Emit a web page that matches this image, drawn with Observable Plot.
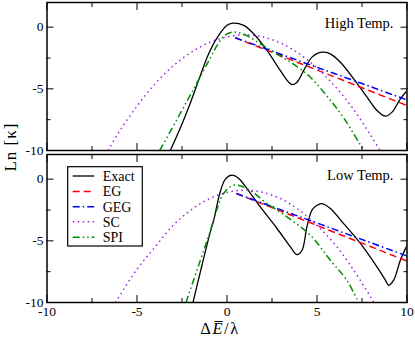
<!DOCTYPE html>
<html><head><meta charset="utf-8">
<script src="https://cdn.jsdelivr.net/npm/d3@7"></script>
<script src="https://cdn.jsdelivr.net/npm/@observablehq/plot@0.6"></script>
<style>
html,body{margin:0;padding:0;background:#fff}
#chart{width:415px;height:337px;overflow:hidden}
</style>
</head><body><div id="chart"></div>
<script>
// ---- data ----
const panels = ["High Temp.", "Low Temp."];
const seriesNames = ["Exact", "EG", "GEG", "SC", "SPI"];
const xTicks = [-10, -5, 0, 5, 10];
const xMinorTicks = [-7.5, -2.5, 2.5, 7.5];
const yTicks = [-10, -5, 0];
const yMinorTicks = [-7.5, -2.5];

// High temperature panel
const highExactX = [-3.15, -2.6, -2.0, -1.5, -1.0, -0.5, 0.0, 0.31, 0.93, 1.48, 2.22, 2.96, 3.43, 3.61, 3.89, 4.26, 4.72, 5.09, 5.37, 5.74, 6.3, 7.04, 7.78, 8.33, 8.8, 9.17, 9.63, 10];
const highExactY = [-10, -8.2, -6.0, -4.0, -2.1, -0.75, 0.15, 0.33, 0.14, -0.54, -1.89, -3.51, -4.46, -4.65, -4.46, -3.51, -2.43, -2.08, -2.03, -2.16, -2.84, -4.19, -5.68, -6.76, -7.22, -6.89, -5.81, -5.15];
const highEGX = [0.46, 2, 4, 6, 8, 10];
const highEGY = [-0.86, -1.75, -2.9, -4.05, -5.2, -6.35];
const highGEGX = [0.46, 2, 4, 6, 8, 10];
const highGEGY = [-0.86, -1.67, -2.73, -3.78, -4.84, -5.9];
const highSCX = [-6.6, -6, -5, -4, -3, -2, -1, 0, 1, 2, 3, 4, 5, 6, 7, 8, 8.5];
const highSCY = [-10, -8.5, -6.4, -4.6, -3.15, -2.05, -1.25, -0.8, -0.62, -0.8, -1.3, -2.15, -3.3, -4.8, -6.6, -8.8, -10];
const highSPIX = [-3.74, -2.6, -1.7, -0.93, -0.5, -0.15, 0.28, 0.9, 1.85, 2.8, 3.7, 4.63, 5.56, 6.5, 7.59];
const highSPIY = [-10, -7.0, -4.6, -2.5, -1.35, -0.7, -0.41, -0.55, -1.35, -2.2, -3.0, -4.06, -5.6, -7.4, -10];

// Low temperature panel
const lowExactX = [-1.89, -1.48, -0.93, -0.74, -0.37, -0.09, 0.28, 0.65, 1.11, 1.85, 2.78, 3.52, 3.89, 4.17, 4.44, 4.72, 5.0, 5.28, 5.74, 6.48, 7.41, 8.33, 8.8, 8.98, 9.26, 9.63, 10];
const lowExactY = [-10, -7.52, -4.3, -3.33, -1.0, 0.0, 0.32, 0.06, -0.76, -2.25, -4.0, -5.49, -6.12, -5.76, -3.87, -2.51, -2.11, -1.98, -2.38, -3.6, -5.21, -7.11, -8.19, -8.6, -8.19, -6.57, -5.37];
const lowEGX = [0.52, 2, 4, 6, 8, 10];
const lowEGY = [-1.16, -2.02, -3.17, -4.33, -5.48, -6.64];
const lowGEGX = [0.52, 2, 4, 6, 8, 10];
const lowGEGY = [-1.16, -1.95, -3.02, -4.09, -5.16, -6.23];
const lowSCX = [-6.2, -5, -4, -3, -2, -1, 0, 1, 2, 3, 4, 5, 6, 7, 8, 8.15];
const lowSCY = [-10, -7.3, -5.5, -3.75, -2.5, -1.6, -1.07, -0.9, -1.07, -1.6, -2.5, -3.75, -5.3, -7.3, -9.6, -10];
const lowSPIX = [-2.28, -1.48, -0.93, -0.5, -0.19, 0.37, 1.11, 2.22, 3.33, 4.63, 5.74, 6.65, 7.31];
const lowSPIY = [-10, -6.57, -4.2, -2.2, -1.16, -0.49, -0.76, -1.97, -3.06, -4.55, -6.57, -8.19, -10];

// ---- build table ----
const rows = [];
function add(panel, series, xs, ys) { xs.forEach((x, i) => rows.push({panel, series, x, y: ys[i]})); }
add(panels[0], "Exact", highExactX, highExactY);
add(panels[0], "EG", highEGX, highEGY);
add(panels[0], "GEG", highGEGX, highGEGY);
add(panels[0], "SC", highSCX, highSCY);
add(panels[0], "SPI", highSPIX, highSPIY);
add(panels[1], "Exact", lowExactX, lowExactY);
add(panels[1], "EG", lowEGX, lowEGY);
add(panels[1], "GEG", lowGEGX, lowGEGY);
add(panels[1], "SC", lowSCX, lowSCY);
add(panels[1], "SPI", lowSPIX, lowSPIY);

const style = {
  Exact: {stroke: "#000000", w: 1.3, dash: null},
  EG:    {stroke: "#ff0000", w: 1.5, dash: "7,4"},
  GEG:   {stroke: "#0000ff", w: 1.5, dash: "7,3,1.5,3"},
  SC:    {stroke: "#a020f0", w: 1.5, dash: "1.5,3.5"},
  SPI:   {stroke: "#008c00", w: 1.5, dash: "7,3,1.5,3,1.5,3"}
};

const fontFamily = "'Liberation Serif', 'Times New Roman', serif";
const fmt = d => String(d);

const lineMarks = seriesNames.map(s => Plot.line(rows.filter(d => d.series === s), {
  x: "x", y: "y", fy: "panel",
  stroke: style[s].stroke, strokeWidth: style[s].w,
  strokeDasharray: style[s].dash, strokeLinecap: "butt",
  curve: "catmull-rom", clip: true
}));

const panelLabels = panels.map(p => ({panel: p, label: p}));

const chart = Plot.plot({
  width: 415, height: 337,
  marginLeft: 46.5, marginRight: 8.5, marginTop: 2, marginBottom: 35,
  style: {fontFamily, fontSize: "13.5px", background: "#fff", color: "#000"},
  x: {domain: [-10, 10]},
  y: {domain: [-10, 2]},
  fy: {domain: panels, paddingInner: 4 / 152, paddingOuter: 0, axis: null, label: null},
  marks: [
    ...lineMarks,
    Plot.frame({stroke: "#000", strokeWidth: 1.5}),
    // inward ticks on all four sides of each panel
    Plot.axisX({anchor: "bottom", facetAnchor: null, ticks: xTicks, tickSize: -7, tickFormat: () => "", label: null}),
    Plot.axisX({anchor: "bottom", facetAnchor: null, ticks: xMinorTicks, tickSize: -4, tickFormat: () => "", label: null}),
    Plot.axisX({anchor: "top", facetAnchor: null, ticks: xTicks, tickSize: -7, tickFormat: () => "", label: null}),
    Plot.axisX({anchor: "top", facetAnchor: null, ticks: xMinorTicks, tickSize: -4, tickFormat: () => "", label: null}),
    Plot.axisY({anchor: "left", facetAnchor: null, ticks: yTicks, tickSize: -7, tickFormat: () => "", label: null}),
    Plot.axisY({anchor: "left", facetAnchor: null, ticks: yMinorTicks, tickSize: -4, tickFormat: () => "", label: null}),
    Plot.axisY({anchor: "right", facetAnchor: null, ticks: yTicks, tickSize: -7, tickFormat: () => "", label: null}),
    Plot.axisY({anchor: "right", facetAnchor: null, ticks: yMinorTicks, tickSize: -4, tickFormat: () => "", label: null}),
    // tick labels
    Plot.axisX({anchor: "bottom", ticks: xTicks, tickSize: 0, tickPadding: 4, tickFormat: fmt, label: null, fontSize: 13.5, fontFamily}),
    Plot.axisY({anchor: "left", facetAnchor: null, ticks: yTicks, tickSize: 0, tickPadding: 3.5, tickFormat: fmt, label: null, fontSize: 13.5, fontFamily}),
    // panel annotations
    Plot.text(panelLabels, {fy: "panel", text: "label", frameAnchor: "top-right", textAnchor: "end", lineAnchor: "top", dx: -13.5, dy: 15, fontSize: 14.5, fontFamily})
  ]
});

const svg = d3.select(chart);
// axis titles
svg.append("text")
  .attr("transform", "translate(16,147) rotate(-90)")
  .attr("text-anchor", "middle")
  .attr("font-family", fontFamily).attr("font-size", 17).attr("letter-spacing", 1)
  .attr("fill", "#000")
  .text("Ln [κ]");
const xl = svg.append("text")
  .attr("x", 220).attr("y", 334)
  .attr("text-anchor", "middle")
  .attr("font-family", fontFamily).attr("font-size", 16.5).attr("letter-spacing", 1.5)
  .attr("fill", "#000");
xl.append("tspan").text("Δ");
xl.append("tspan").attr("font-style", "italic").text("E\u0305");
xl.append("tspan").text("/λ");

// legend inside lower panel
const lg = svg.append("g").attr("font-family", fontFamily).attr("font-size", 14).attr("text-anchor", "start");
lg.append("rect").attr("x", 67.7).attr("y", 166.7).attr("width", 74.6).attr("height", 79.3)
  .attr("fill", "#fff").attr("stroke", "#000").attr("stroke-width", 1.2);
const rowY = [176, 191.5, 206.7, 221.8, 237.2];
seriesNames.forEach((s, i) => {
  lg.append("line").attr("x1", 72.7).attr("x2", 94.3).attr("y1", rowY[i]).attr("y2", rowY[i])
    .attr("stroke", style[s].stroke).attr("stroke-width", style[s].w)
    .attr("stroke-dasharray", style[s].dash).attr("stroke-linecap", "butt");
  lg.append("text").attr("x", 102.7).attr("y", rowY[i] + 4.8).attr("text-anchor", "start").attr("fill", "#000").text(s);
});

document.getElementById("chart").appendChild(chart);
</script>
</body></html>
